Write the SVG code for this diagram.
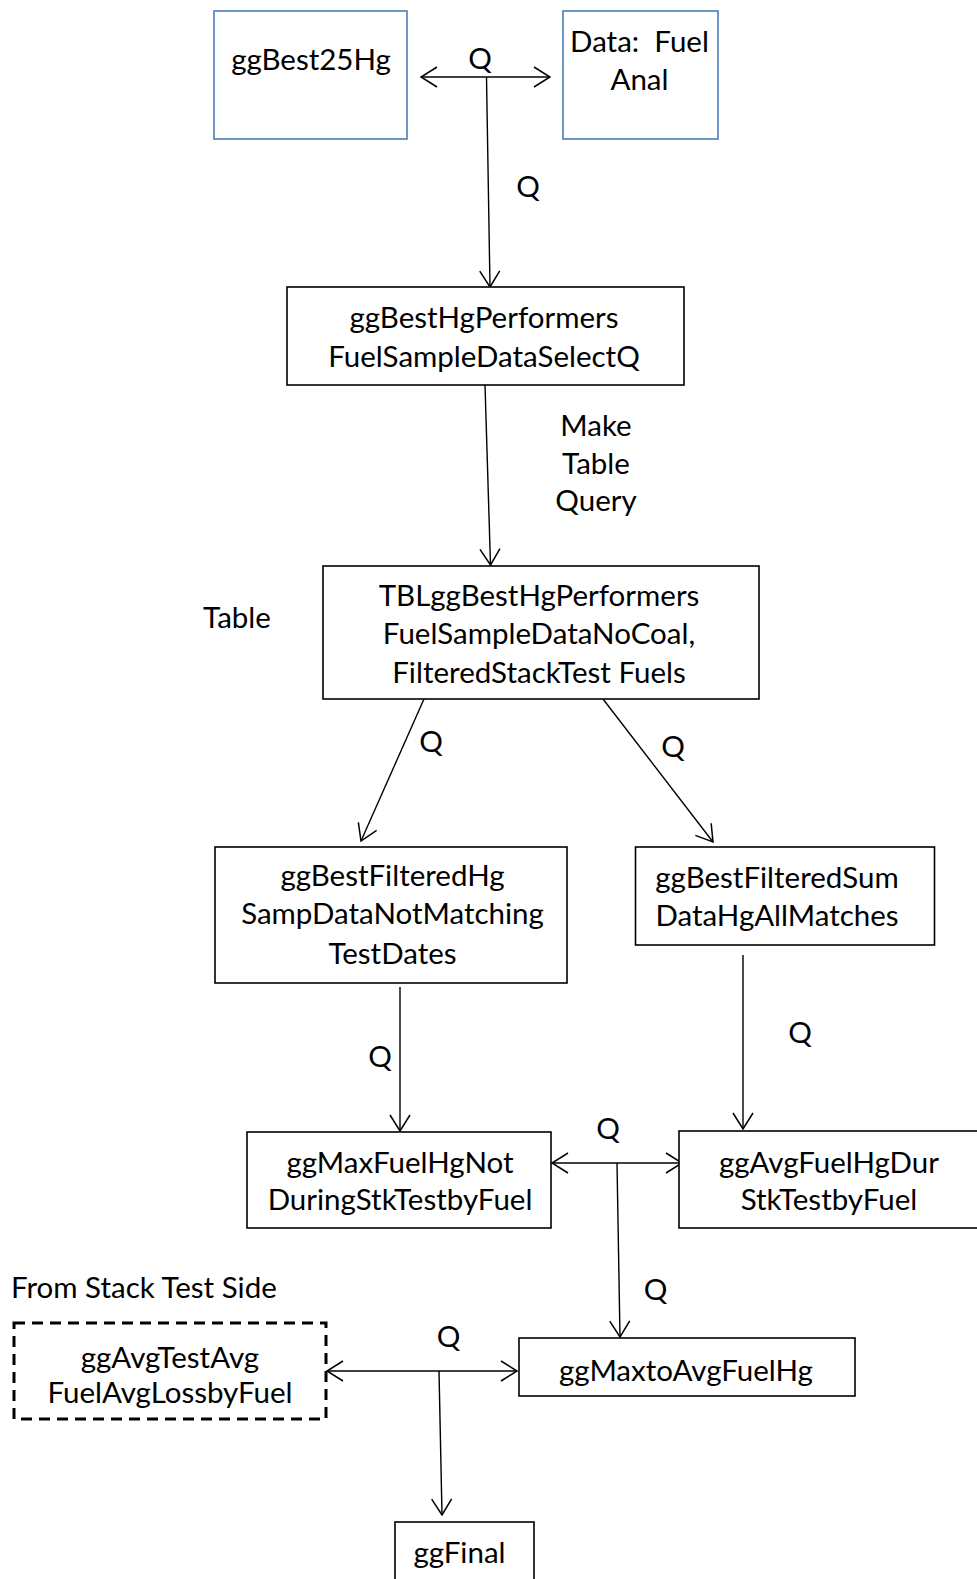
<svg xmlns="http://www.w3.org/2000/svg" width="977" height="1579" viewBox="0 0 977 1579">
<style>
.box{fill:#fff;stroke:#000;stroke-width:1.6}
.blue{fill:#fff;stroke:#4a7ebb;stroke-width:1.6}
.dash{fill:#fff;stroke:#000;stroke-width:3;stroke-dasharray:11 7}
.t{font-family:Lato,"Liberation Sans",sans-serif;font-size:29.5px;fill:#000;text-anchor:middle}
.l{text-anchor:start}
.c{fill:none;stroke:#000;stroke-width:1.4}
.a{marker-end:url(#ah)}
.d{marker-start:url(#ah);marker-end:url(#ah)}
</style>
<defs>
<marker id="ah" markerUnits="userSpaceOnUse" viewBox="0 0 18 22" refX="17" refY="11" markerWidth="18" markerHeight="22" orient="auto-start-reverse">
<path d="M1,1 L17,11 L1,21" fill="none" stroke="#000" stroke-width="1.5"/>
</marker>
</defs>
<rect width="977" height="1579" fill="#fff"/>
<g id="connectors">
<line class="c d" x1="421" y1="77" x2="550" y2="77"/>
<line class="c a" x1="486.5" y1="77" x2="490" y2="287"/>
<line class="c a" x1="485" y1="385" x2="490.5" y2="565"/>
<line class="c a" x1="424" y1="699" x2="361" y2="841"/>
<line class="c a" x1="603" y1="699" x2="713" y2="842"/>
<line class="c a" x1="400" y1="987" x2="400" y2="1131"/>
<line class="c a" x1="743" y1="955" x2="743" y2="1129"/>
<line class="c d" x1="552" y1="1163" x2="682" y2="1163"/>
<line class="c a" x1="617" y1="1163" x2="620" y2="1337"/>
<line class="c d" x1="327" y1="1371" x2="517" y2="1371"/>
<line class="c a" x1="439" y1="1371" x2="442" y2="1515"/>
<text class="t" x="480" y="69">Q</text>
<text class="t" x="528" y="197">Q</text>
<text class="t" x="596" y="436">Make</text>
<text class="t" x="596" y="474">Table</text>
<text class="t" x="596" y="511">Query</text>
<text class="t" x="431" y="752">Q</text>
<text class="t" x="673" y="757">Q</text>
<text class="t" x="380" y="1067">Q</text>
<text class="t" x="800" y="1043">Q</text>
<text class="t" x="608" y="1139">Q</text>
<text class="t" x="655.5" y="1300">Q</text>
<text class="t" x="448.6" y="1347">Q</text>
</g>
<g id="n-ggBest25Hg">
<rect class="blue" x="214" y="11" width="193" height="128"/>
<text class="t" x="311" y="70">ggBest25Hg</text>
</g>
<g id="n-datafuel">
<rect class="blue" x="563" y="11" width="155" height="128"/>
<text class="t" x="639.5" y="52" xml:space="preserve">Data:  Fuel</text>
<text class="t" x="639.5" y="90">Anal</text>
</g>
<g id="n-select">
<rect class="box" x="287" y="287" width="397" height="98"/>
<text class="t" x="484" y="328">ggBestHgPerformers</text>
<text class="t" x="484" y="367">FuelSampleDataSelectQ</text>
</g>
<g id="n-table-label">
<text class="t" x="237" y="628">Table</text>
</g>
<g id="n-tbl">
<rect class="box" x="323" y="566" width="436" height="133"/>
<text class="t" x="539" y="606">TBLggBestHgPerformers</text>
<text class="t" x="539" y="644">FuelSampleDataNoCoal,</text>
<text class="t" x="539" y="683">FilteredStackTest Fuels</text>
</g>
<g id="n-filteredhg">
<rect class="box" x="215" y="847" width="352" height="136"/>
<text class="t" x="392.5" y="886">ggBestFilteredHg</text>
<text class="t" x="392.5" y="924">SampDataNotMatching</text>
<text class="t" x="392.5" y="964">TestDates</text>
</g>
<g id="n-filteredsum">
<rect class="box" x="635.5" y="847" width="299" height="98"/>
<text class="t" x="777" y="888">ggBestFilteredSum</text>
<text class="t" x="777" y="926">DataHgAllMatches</text>
</g>
<g id="n-maxfuel">
<rect class="box" x="247" y="1132" width="304" height="96"/>
<text class="t" x="400" y="1173">ggMaxFuelHgNot</text>
<text class="t" x="400" y="1210">DuringStkTestbyFuel</text>
</g>
<g id="n-avgfuel">
<rect class="box" x="679" y="1131" width="320" height="97"/>
<text class="t" x="829" y="1173">ggAvgFuelHgDur</text>
<text class="t" x="829" y="1210">StkTestbyFuel</text>
</g>
<g id="n-stackside">
<text class="t l" x="11" y="1298">From Stack Test Side</text>
</g>
<g id="n-avgtest">
<rect class="dash" x="14" y="1323" width="312" height="96"/>
<text class="t" x="170" y="1368">ggAvgTestAvg</text>
<text class="t" x="170" y="1403">FuelAvgLossbyFuel</text>
</g>
<g id="n-maxtoavg">
<rect class="box" x="519" y="1338" width="336" height="58"/>
<text class="t" x="686" y="1381">ggMaxtoAvgFuelHg</text>
</g>
<g id="n-final">
<rect class="box" x="395" y="1522" width="139" height="80"/>
<text class="t" x="459.5" y="1563">ggFinal</text>
</g>
</svg>
